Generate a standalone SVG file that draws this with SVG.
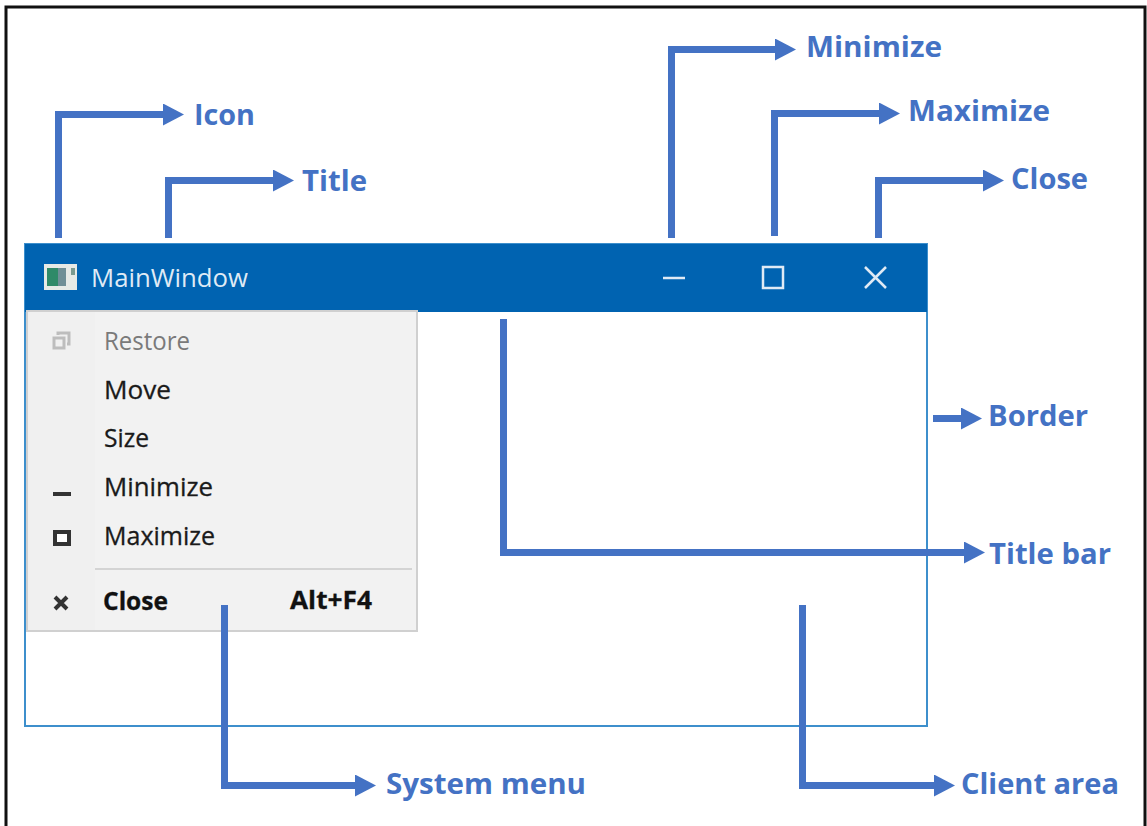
<svg xmlns="http://www.w3.org/2000/svg" width="1147" height="826" viewBox="0 0 1147 826">
<style>
.c{fill:none;stroke:#4472c4;stroke-width:7}
.lab{font-family:"Open Sans","Noto Sans","Liberation Sans",sans-serif;font-weight:700;font-size:29px;fill:#4472c4}
.m{font-family:"Open Sans","Noto Sans","Liberation Sans",sans-serif;font-size:25px;fill:#1a1a1a;stroke:#1a1a1a;stroke-width:.3}
.g{fill:#7a7a7a;stroke:none}
.b{font-weight:700;fill:#111}
</style>
<defs><marker id="a" markerUnits="userSpaceOnUse" markerWidth="22" markerHeight="24" refX="11" refY="11" orient="auto"><path d="M0 0L21 11L0 22Z" fill="#4472c4"/></marker></defs>
<rect id="frame" x="6" y="7" width="1139" height="830" fill="#fff" stroke="#111" stroke-width="3"/>
<g id="window">
<rect x="25" y="244" width="902" height="482" fill="#fff" stroke="#3d8fcc" stroke-width="2"/>
<rect x="25" y="244" width="902" height="68" fill="#0063b1"/>
<g id="icon"><rect x="44" y="264" width="33" height="26" fill="#e6eae6"/><rect x="47" y="268" width="11" height="18" fill="#2f8a68"/><rect x="58" y="268" width="8" height="18" fill="#6f8f96"/><rect x="71" y="268" width="4" height="7" fill="#7a9a90"/></g>
<text x="91" y="287" font-family="Open Sans,Noto Sans,sans-serif" font-size="26" fill="#dfeaf5" textLength="157" lengthAdjust="spacingAndGlyphs">MainWindow</text>
<path d="M663 278H685" stroke="#dfeaf5" stroke-width="2.500" fill="none"/>
<rect x="763" y="267" width="20" height="21" fill="none" stroke="#dfeaf5" stroke-width="2.500"/>
<path d="M865 267L886 288M886 267L865 288" stroke="#dfeaf5" stroke-width="2.500" fill="none"/>
</g>
<g id="system-menu">
<rect x="27" y="311" width="390" height="320" fill="#f2f2f2" stroke="#d0d0d0" stroke-width="2"/>
<rect x="28" y="312" width="67" height="318" fill="#f0f0f0"/>
<path d="M95 569H412" stroke="#d4d4d4" stroke-width="2"/>
<g fill="none" stroke="#bdbdbd" stroke-width="3"><rect x="54" y="338" width="10" height="10"/><path d="M58 335V333H69V344H67"/></g>
<path d="M53 494H71" stroke="#333" stroke-width="4"/>
<rect x="55" y="532" width="14" height="12" fill="#fff" stroke="#333" stroke-width="4"/>
<path d="M55 597L67 609M67 597L55 609" stroke="#333" stroke-width="4"/>
<text class="m g" x="104" y="350" textLength="86" lengthAdjust="spacingAndGlyphs">Restore</text>
<text class="m" x="104" y="399" textLength="67" lengthAdjust="spacingAndGlyphs">Move</text>
<text class="m" x="104" y="447" textLength="45" lengthAdjust="spacingAndGlyphs">Size</text>
<text class="m" x="104" y="496" textLength="109" lengthAdjust="spacingAndGlyphs">Minimize</text>
<text class="m" x="104" y="545" textLength="111" lengthAdjust="spacingAndGlyphs">Maximize</text>
<text class="m b" x="103" y="610" textLength="65" lengthAdjust="spacingAndGlyphs">Close</text>
<text class="m b" x="290" y="609" textLength="82" lengthAdjust="spacingAndGlyphs">Alt+F4</text>
</g>
<g id="connectors">
<path class="c" marker-end="url(#a)" d="M58.500 238V114.500H174"/>
<path class="c" marker-end="url(#a)" d="M168.500 238V180.500H284"/>
<path class="c" marker-end="url(#a)" d="M671.500 238V49.500H786"/>
<path class="c" marker-end="url(#a)" d="M774.500 236V113.500H890"/>
<path class="c" marker-end="url(#a)" d="M878.500 238V180.500H994"/>
<path class="c" marker-end="url(#a)" d="M933 418.500H972"/>
<path class="c" marker-end="url(#a)" d="M503.500 319V552.500H975"/>
<path class="c" marker-end="url(#a)" d="M224.500 605V785.500H366"/>
<path class="c" marker-end="url(#a)" d="M802.500 605V785.500H945"/>
</g>
<g id="labels">
<text class="lab" x="194" y="125" textLength="61" lengthAdjust="spacingAndGlyphs">Icon</text>
<text class="lab" x="302" y="191" textLength="65" lengthAdjust="spacingAndGlyphs">Title</text>
<text class="lab" x="806" y="57" textLength="136" lengthAdjust="spacingAndGlyphs">Minimize</text>
<text class="lab" x="908" y="121" textLength="142" lengthAdjust="spacingAndGlyphs">Maximize</text>
<text class="lab" x="1011" y="189" textLength="77" lengthAdjust="spacingAndGlyphs">Close</text>
<text class="lab" x="988" y="426" textLength="100" lengthAdjust="spacingAndGlyphs">Border</text>
<text class="lab" x="989" y="564" textLength="122" lengthAdjust="spacingAndGlyphs">Title bar</text>
<text class="lab" x="386" y="794" textLength="200" lengthAdjust="spacingAndGlyphs">System menu</text>
<text class="lab" x="961" y="794" textLength="158" lengthAdjust="spacingAndGlyphs">Client area</text>
</g>
</svg>
